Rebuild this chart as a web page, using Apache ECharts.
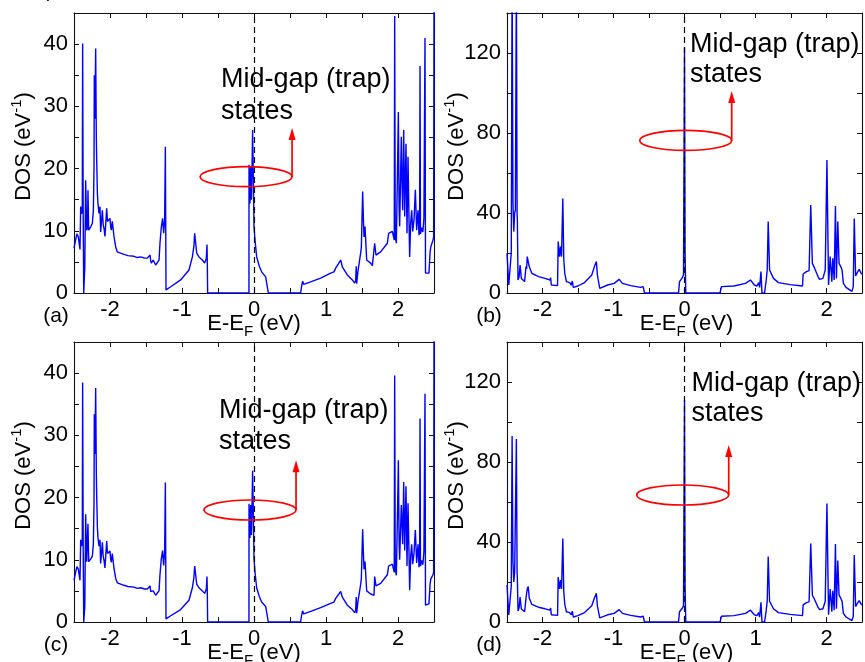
<!DOCTYPE html>
<html><head><meta charset="utf-8">
<script src="https://cdn.jsdelivr.net/npm/echarts@6/dist/echarts.min.js"></script>
<style>html,body{margin:0;padding:0;background:#fff}#c{width:865px;height:662px}</style>
</head><body><div id="c"></div>
<script>
// ---- data (energy E-EF in eV, DOS in 1/eV) ----
const xTickLabels = [-2, -1, 0, 1, 2];
const yTickLabelsAC = [0, 10, 20, 30, 40];
const yTickLabelsBD = [0, 40, 80, 120];
const panelLabels = ['(a)', '(b)', '(c)', '(d)'];
const noteLine1 = 'Mid-gap (trap)';
const noteLine2 = 'states';

const dosA = [[-2.5,7.2],[-2.48,7.5],[-2.46,9.5],[-2.44,9.0],[-2.43,9.3],[-2.417,7.0],[-2.407,13.9],[-2.395,12.7],[-2.385,13.5],[-2.380,40.1],[-2.372,12],[-2.365,0],[-2.358,0],[-2.350,4.2],[-2.338,18.1],[-2.324,10.1],[-2.312,10.5],[-2.306,16.5],[-2.296,10.1],[-2.28,10.4],[-2.269,10.6],[-2.245,11.2],[-2.231,13.3],[-2.222,20],[-2.218,35.0],[-2.210,28],[-2.199,39.3],[-2.190,25],[-2.185,21.4],[-2.175,16],[-2.167,14.4],[-2.153,12.8],[-2.139,13.9],[-2.130,9.8],[-2.120,9.6],[-2.106,13.3],[-2.095,11],[-2.083,10.4],[-2.070,9.1],[-2.060,9.05],[-2.046,13.6],[-2.035,11.5],[-2.028,11.7],[-2.014,11.2],[-2.0,12.0],[-1.990,10.5],[-1.981,10.1],[-1.968,11.5],[-1.954,11.5],[-1.944,9.05],[-1.921,7.4],[-1.898,6.6],[-1.852,6.4],[-1.806,6.2],[-1.75,6.0],[-1.667,5.9],[-1.62,5.7],[-1.574,5.8],[-1.52,5.6],[-1.481,5.6],[-1.444,6.1],[-1.435,5.2],[-1.426,4.8],[-1.40,5.3],[-1.389,5.3],[-1.366,4.5],[-1.343,4.5],[-1.319,5.3],[-1.306,8.0],[-1.287,10.65],[-1.269,12.0],[-1.255,9.6],[-1.241,11.7],[-1.231,23.5],[-1.222,0.5],[-1.157,1.0],[-1.019,2.1],[-0.903,3.7],[-0.856,5.8],[-0.835,7.5],[-0.824,9.6],[-0.810,8.0],[-0.796,6.4],[-0.764,5.8],[-0.718,5.3],[-0.685,4.8],[-0.670,5.0],[-0.662,5.6],[-0.653,7.8],[-0.648,4.5],[-0.644,0],[-0.07,0],[-0.069,20.6],[-0.056,14.4],[-0.046,20.3],[-0.036,15.0],[-0.028,19.8],[-0.019,26.2],[-0.009,18.2],[0.0,10.7],[0.014,8.5],[0.037,5.8],[0.074,4.3],[0.106,3.4],[0.13,3.2],[0.162,2.6],[0.176,2.8],[0.185,2.9],[0.199,0],[0.648,0],[0.66,1.0],[0.675,1.9],[0.69,1.4],[0.70,1.5],[0.787,1.8],[0.926,2.4],[1.065,3.2],[1.111,3.4],[1.134,4.0],[1.204,5.3],[1.213,5.4],[1.227,4.2],[1.296,2.9],[1.366,2.1],[1.398,1.6],[1.412,2.0],[1.420,4.3],[1.426,1.5],[1.444,3.5],[1.458,3.2],[1.481,6.4],[1.491,7.4],[1.509,16.3],[1.519,12],[1.528,9.0],[1.542,10.7],[1.565,5.3],[1.62,4.8],[1.644,4.4],[1.667,4.5],[1.676,8.0],[1.694,6.1],[1.759,6.6],[1.782,6.8],[1.852,8.0],[1.870,9.6],[1.889,9.9],[1.921,9.9],[1.940,10.1],[1.948,8.5],[1.954,44.5],[1.962,9],[1.977,8.0],[2.0,25],[2.005,29.1],[2.015,14],[2.023,10.7],[2.046,25.1],[2.055,18],[2.065,13.3],[2.079,26.2],[2.093,12.3],[2.111,24.0],[2.125,9.6],[2.139,21.9],[2.153,11.7],[2.162,5.8],[2.176,11.2],[2.190,13.3],[2.204,9.9],[2.222,11.7],[2.241,16.6],[2.259,10.1],[2.278,13.3],[2.292,9.3],[2.300,10],[2.306,36.5],[2.312,9.5],[2.33,10.5],[2.345,9.8],[2.36,12],[2.375,41],[2.382,3.2],[2.40,2.9],[2.43,3.2],[2.445,6.5],[2.455,7.4],[2.486,8.5],[2.495,9],[2.5,46]];

const dosB = [[-2.5,19.8],[-2.475,4.0],[-2.452,4.2],[-2.440,20],[-2.428,160],[-2.416,45],[-2.405,30.7],[-2.392,40],[-2.382,41.5],[-2.368,160],[-2.358,40],[-2.354,36.5],[-2.345,6.5],[-2.33,8],[-2.316,14.0],[-2.298,7.3],[-2.275,6.5],[-2.252,5.7],[-2.233,13.2],[-2.224,12],[-2.215,18.2],[-2.201,19.0],[-2.187,13.2],[-2.150,9.8],[-2.10,9.0],[-2.057,8.2],[-1.964,7.3],[-1.895,6.5],[-1.885,7.7],[-1.876,4.0],[-1.788,3.7],[-1.779,25.7],[-1.760,18.2],[-1.746,23.2],[-1.732,18.2],[-1.714,47.3],[-1.700,16.5],[-1.686,9.8],[-1.663,5.7],[-1.617,5.2],[-1.594,4.0],[-1.580,6.0],[-1.566,2.8],[-1.501,3.5],[-1.408,5.2],[-1.306,9.0],[-1.269,13.2],[-1.241,15.7],[-1.227,9.0],[-1.208,9.8],[-1.194,2.3],[-1.176,2.8],[-1.083,4.0],[-0.990,4.8],[-0.920,6.8],[-0.874,4.8],[-0.758,3.7],[-0.619,2.8],[-0.582,3.2],[-0.563,0],[-0.084,0],[-0.070,5.7],[-0.037,7.3],[-0.014,9.0],[-0.005,10],[0.0,122.7],[0.008,20],[0.018,0],[0.501,0],[0.520,3.2],[0.539,2.3],[0.696,3.5],[0.859,4.8],[0.929,6.5],[0.984,4.0],[1.021,3.5],[1.045,5.2],[1.058,2.8],[1.077,10.7],[1.091,0],[1.128,0],[1.151,6.5],[1.165,11.5],[1.179,35.7],[1.198,11.5],[1.216,11.2],[1.253,7.3],[1.323,5.2],[1.486,4.2],[1.662,3.5],[1.671,9.5],[1.695,8.5],[1.718,10.7],[1.755,11.2],[1.778,44],[1.801,14.8],[1.834,12.3],[1.880,8.2],[1.903,6.8],[1.950,7.3],[1.982,11.5],[2.006,66.5],[2.029,4.0],[2.052,18.2],[2.075,5.7],[2.089,17.3],[2.108,6.5],[2.126,43.5],[2.140,7.3],[2.159,35.8],[2.177,14.8],[2.201,13.2],[2.219,11.5],[2.238,4.8],[2.275,2.8],[2.358,0.8],[2.377,3.2],[2.391,37.3],[2.410,8.5],[2.433,10.2],[2.461,11.8],[2.493,9.5],[2.5,9.8]];

const dosC = [[-2.5,6.7],[-2.48,7.0],[-2.46,8.9],[-2.44,8.5],[-2.43,8.8],[-2.417,6.7],[-2.407,13.2],[-2.395,12.2],[-2.385,13.0],[-2.380,38.5],[-2.372,11.5],[-2.365,0],[-2.358,0],[-2.350,2.5],[-2.338,17.3],[-2.324,9.7],[-2.312,10.0],[-2.306,15.8],[-2.296,9.7],[-2.28,9.9],[-2.269,10.1],[-2.245,10.6],[-2.231,12.6],[-2.222,19],[-2.218,33.4],[-2.210,27],[-2.199,37.6],[-2.190,24],[-2.185,20.3],[-2.175,15.2],[-2.167,13.6],[-2.153,12.2],[-2.139,13.2],[-2.130,9.4],[-2.120,9.2],[-2.106,12.8],[-2.095,10.6],[-2.083,9.9],[-2.070,8.7],[-2.060,8.6],[-2.046,13.0],[-2.035,11.0],[-2.028,11.2],[-2.014,10.7],[-2.0,11.4],[-1.990,10.0],[-1.981,9.6],[-1.968,11.0],[-1.954,11.0],[-1.944,8.6],[-1.921,7.0],[-1.898,6.3],[-1.852,6.1],[-1.806,5.9],[-1.75,5.7],[-1.667,5.6],[-1.62,5.4],[-1.574,5.5],[-1.52,5.3],[-1.481,5.3],[-1.444,5.8],[-1.435,4.9],[-1.426,4.6],[-1.40,5.0],[-1.389,5.0],[-1.366,4.3],[-1.343,4.3],[-1.319,5.0],[-1.306,7.6],[-1.287,10.2],[-1.269,11.5],[-1.255,9.1],[-1.241,11.2],[-1.231,22.4],[-1.222,0.5],[-1.157,1.0],[-1.019,2.0],[-0.903,3.5],[-0.856,5.5],[-0.835,7.1],[-0.824,9.0],[-0.810,7.6],[-0.796,6.1],[-0.764,5.5],[-0.718,5.0],[-0.685,4.6],[-0.670,4.8],[-0.662,5.3],[-0.653,7.3],[-0.648,4.3],[-0.644,0],[-0.07,0],[-0.069,19.0],[-0.056,13.5],[-0.046,18.8],[-0.036,14.0],[-0.028,18.4],[-0.019,24.3],[-0.009,17.0],[0.0,10.2],[0.014,8.0],[0.037,5.5],[0.074,4.1],[0.106,3.2],[0.13,3.0],[0.162,2.5],[0.176,2.6],[0.185,2.7],[0.199,0],[0.648,0],[0.66,1.0],[0.675,1.8],[0.69,1.3],[0.70,1.4],[0.787,1.7],[0.926,2.3],[1.065,3.0],[1.111,3.2],[1.134,3.8],[1.204,4.9],[1.213,5.0],[1.227,4.0],[1.296,2.7],[1.366,2.0],[1.398,1.5],[1.412,1.9],[1.420,4.0],[1.426,1.4],[1.444,3.3],[1.458,3.0],[1.481,6.0],[1.491,7.0],[1.509,14.9],[1.519,11.2],[1.528,8.5],[1.542,9.7],[1.565,5.0],[1.62,4.5],[1.644,4.2],[1.667,4.3],[1.676,7.3],[1.694,5.8],[1.759,6.2],[1.782,6.4],[1.852,7.6],[1.870,9.0],[1.889,9.3],[1.921,9.3],[1.940,9.5],[1.948,8.0],[1.954,39.6],[1.962,8.5],[1.977,7.5],[2.0,22],[2.005,26.0],[2.015,13],[2.023,10.0],[2.046,18.8],[2.055,16],[2.065,12.5],[2.079,22.5],[2.093,11.5],[2.111,21.8],[2.125,9.0],[2.139,19.1],[2.153,11.0],[2.162,5.1],[2.176,10.5],[2.190,12.5],[2.204,9.3],[2.222,11.0],[2.241,14.8],[2.259,9.5],[2.278,12.5],[2.292,8.8],[2.300,9.4],[2.306,32.7],[2.312,9.0],[2.33,9.9],[2.345,9.2],[2.36,11.3],[2.375,36.7],[2.382,2.7],[2.40,2.6],[2.43,2.9],[2.445,6.0],[2.455,6.9],[2.486,7.6],[2.495,8.0],[2.5,46]];

const dosD = [[-2.5,18.5],[-2.475,3.5],[-2.452,3.8],[-2.440,18],[-2.428,93],[-2.416,30],[-2.405,20],[-2.392,25],[-2.382,24],[-2.368,91.5],[-2.358,25],[-2.354,22],[-2.345,5.5],[-2.33,7],[-2.316,12.5],[-2.298,6.5],[-2.275,5.8],[-2.252,5.1],[-2.233,11.8],[-2.224,10.8],[-2.215,16.5],[-2.201,17.7],[-2.187,12],[-2.150,8.8],[-2.10,8.1],[-2.057,7.4],[-1.964,6.6],[-1.895,5.9],[-1.885,7.0],[-1.876,3.6],[-1.788,3.3],[-1.779,22.5],[-1.760,16.5],[-1.746,21],[-1.732,16.5],[-1.714,41.8],[-1.700,15],[-1.686,8.8],[-1.663,5.1],[-1.617,4.7],[-1.594,3.6],[-1.580,5.4],[-1.566,2.5],[-1.501,3.2],[-1.408,4.7],[-1.306,8.1],[-1.269,12],[-1.241,14.3],[-1.227,8.1],[-1.208,8.8],[-1.194,2.1],[-1.176,2.5],[-1.083,3.6],[-0.990,4.3],[-0.920,6.2],[-0.874,4.3],[-0.758,3.3],[-0.619,2.5],[-0.582,2.9],[-0.563,0],[-0.084,0],[-0.070,5.1],[-0.037,6.6],[-0.014,8.1],[-0.005,9],[0.0,111],[0.008,18],[0.018,0],[0.501,0],[0.520,2.9],[0.539,2.1],[0.696,3.2],[0.859,4.3],[0.929,5.9],[0.984,3.6],[1.021,3.2],[1.045,4.7],[1.058,2.5],[1.077,9.8],[1.091,0],[1.128,0],[1.151,5.9],[1.165,10.4],[1.179,32.7],[1.198,10.4],[1.216,10.1],[1.253,6.6],[1.323,4.7],[1.486,3.8],[1.662,3.2],[1.671,8.6],[1.695,7.7],[1.718,9.7],[1.755,10.1],[1.778,39.3],[1.801,13.4],[1.834,11.1],[1.880,7.4],[1.903,6.2],[1.950,6.6],[1.982,10.4],[2.006,59.3],[2.029,3.6],[2.052,16.5],[2.075,5.1],[2.089,15.6],[2.108,5.9],[2.126,39.0],[2.140,6.6],[2.159,30.7],[2.177,13.4],[2.201,11.9],[2.219,10.4],[2.238,4.3],[2.275,2.5],[2.358,0.7],[2.377,2.9],[2.391,33.5],[2.410,7.7],[2.433,9.2],[2.461,10.7],[2.493,8.6],[2.5,8.9]];

// annotation anchors in data units: ellipse centre [E, DOS], arrow tip DOS
const ellipseCentres = [[-0.11, 18.7], [0.017, 76.3], [-0.055, 18.0], [-0.025, 63.5]];
const arrowTipDos = [26.5, 101, 26.0, 88.5];

// ---- layout / style ----
const FONT = '"Liberation Sans", Arial, Helvetica, sans-serif';
const grids = [
  {left: 74, top: 13, width: 360, height: 280},
  {left: 507, top: 13, width: 359, height: 280},
  {left: 74, top: 342, width: 360, height: 280},
  {left: 507, top: 342, width: 359, height: 280}
];
const yMax = [45, 140, 45, 140];
const yStep = [5, 20, 5, 20];
const yLabelSets = [yTickLabelsAC, yTickLabelsBD, yTickLabelsAC, yTickLabelsBD];
const dosSets = [dosA, dosB, dosC, dosD];
const noteOrigins = [[221, 80, 112], [690, 44.5, 75], [219, 411, 442], [691.5, 383.5, 414]];

const chart = echarts.init(document.getElementById('c'), null, {renderer: 'canvas'});
const axisLine = {show: true, onZero: false, lineStyle: {color: '#111', width: 1.1}};
const axisTick = {show: true, inside: true, length: 5, lineStyle: {color: '#111', width: 1}};
const xAxis = [], yAxis = [], series = [];
for (let i = 0; i < 4; i++) {
  const xBase = {type: 'value', gridIndex: i, min: -2.5, max: 2.5, interval: 0.5,
    axisLine, axisTick, splitLine: {show: false}};
  xAxis.push(Object.assign({}, xBase, {position: 'bottom',
    axisLabel: {margin: 6, fontSize: 22, color: '#000', fontFamily: FONT,
      formatter: v => xTickLabels.indexOf(Math.round(v * 100) / 100) >= 0 ? String(Math.round(v)) : ''}}));
  xAxis.push(Object.assign({}, xBase, {position: 'top', axisLabel: {show: false}}));
  const yBase = {type: 'value', gridIndex: i, min: 0, max: yMax[i], interval: yStep[i],
    axisLine, axisTick, splitLine: {show: false}};
  const labs = yLabelSets[i];
  yAxis.push(Object.assign({}, yBase, {position: 'left',
    axisLabel: {margin: 6, fontSize: 22, color: '#000', fontFamily: FONT,
      formatter: v => labs.indexOf(v) >= 0 ? String(v) : ''}}));
  yAxis.push(Object.assign({}, yBase, {position: 'right', axisLabel: {show: false}}));
  series.push({type: 'line', xAxisIndex: 2 * i, yAxisIndex: 2 * i, data: dosSets[i],
    showSymbol: false, symbol: 'none', clip: true, z: 3,
    lineStyle: {color: '#0000ff', width: 1.4},
    markLine: {silent: true, symbol: 'none', label: {show: false}, animation: false,
      lineStyle: {color: '#000', type: [6, 4], width: 1.2}, data: [{xAxis: 0}]}});
}
chart.setOption({animation: false, backgroundColor: '#fff', grid: grids, xAxis, yAxis, series});

// ---- texts and annotations ----
const g = [];
const richX = {
  a: {fontSize: 22, lineHeight: 30, fontFamily: FONT, fill: '#000'},
  s: {fontSize: 15, lineHeight: 16, fontFamily: FONT, fill: '#000', verticalAlign: 'bottom'}
};
const richY = {
  a: {fontSize: 22, lineHeight: 30, fontFamily: FONT, fill: '#000'},
  p: {fontSize: 15, lineHeight: 18, fontFamily: FONT, fill: '#000', verticalAlign: 'top'}
};
for (let i = 0; i < 4; i++) {
  const gr = grids[i];
  const cxGrid = gr.left + gr.width / 2;
  const bottom = gr.top + gr.height;
  g.push({type: 'text', x: cxGrid, y: bottom + 31, z: 1, style: {
    text: '{a|E-E}{s|F}{a| (eV)}', rich: richX, align: 'center', verticalAlign: 'middle'}});
  g.push({type: 'text', x: gr.left - 50, y: gr.top + 133.5, rotation: Math.PI / 2, z: 1, style: {
    text: '{a|DOS (eV}{p|-1}{a|)}', rich: richY, align: 'center', verticalAlign: 'middle'}});
  g.push({type: 'text', x: gr.left - 18, y: bottom + 23, z: 1, style: {
    text: panelLabels[i], fontSize: 21, fontFamily: FONT, fill: '#000', align: 'center', verticalAlign: 'middle'}});
  const no = noteOrigins[i];
  g.push({type: 'text', x: no[0], y: no[1], z: 1, style: {text: noteLine1, fontSize: 27, fontFamily: FONT, fill: '#000', align: 'left', verticalAlign: 'middle'}});
  g.push({type: 'text', x: no[0], y: no[2], z: 1, style: {text: noteLine2, fontSize: 27, fontFamily: FONT, fill: '#000', align: 'left', verticalAlign: 'middle'}});
  const c = chart.convertToPixel({xAxisIndex: 2 * i, yAxisIndex: 2 * i}, ellipseCentres[i]);
  const tip = chart.convertToPixel({xAxisIndex: 2 * i, yAxisIndex: 2 * i}, [0, arrowTipDos[i]])[1];
  const rx = 46, ry = 10, ax = c[0] + rx;
  g.push({type: 'ellipse', z: 10, shape: {cx: c[0], cy: c[1], rx, ry}, style: {fill: 'none', stroke: '#ff0000', lineWidth: 1.7}});
  g.push({type: 'line', z: 10, shape: {x1: ax, y1: c[1], x2: ax, y2: tip + 8}, style: {stroke: '#ff0000', lineWidth: 1.7}});
  g.push({type: 'polygon', z: 10, shape: {points: [[ax, tip], [ax - 3.5, tip + 12], [ax + 3.5, tip + 12]]}, style: {fill: '#ff0000'}});
}
g.push({type: 'text', x: 50, y: -9, z: 1, style: {text: ')', fontSize: 21, fontFamily: FONT, fill: '#000', align: 'center', verticalAlign: 'middle'}});
chart.setOption({graphic: g});
</script></body></html>
